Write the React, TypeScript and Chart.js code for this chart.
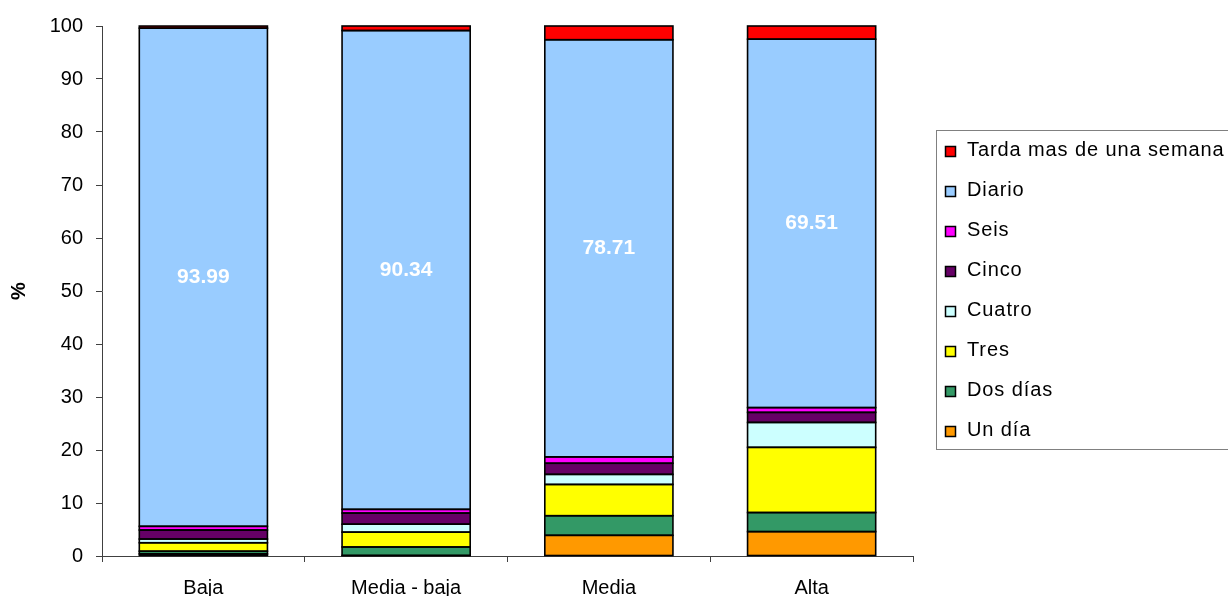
import React, { useEffect, useRef } from "react";
import { Chart, registerables } from "chart.js";

Chart.register(...registerables);

const categories = ["Baja", "Media - baja", "Media", "Alta"];
const seriesNames = ["Un día", "Dos días", "Tres", "Cuatro", "Cinco", "Seis", "Diario", "Tarda mas de una semana"];
const unDia = [0.4, 0.1, 3.9, 4.6];
const dosDias = [0.5, 1.6, 3.7, 3.6];
const tres = [1.6, 2.8, 5.9, 12.3];
const cuatro = [0.7, 1.5, 1.9, 4.7];
const cinco = [1.7, 2.1, 2.1, 1.9];
const seis = [0.7, 0.7, 1.2, 0.9];
const diario = [93.99, 90.34, 78.71, 69.51];
const tarda = [0.4, 0.86, 2.59, 2.49];
const seriesValues = [unDia, dosDias, tres, cuatro, cinco, seis, diario, tarda];
const seriesColors = ["#FF9900", "#339966", "#FFFF00", "#CCFFFF", "#660066", "#FF00FF", "#99CCFF", "#FF0000"];
const yTicks = [0, 10, 20, 30, 40, 50, 60, 70, 80, 90, 100];

const FONT = "'Liberation Sans', Arial, sans-serif";

const outlinePlugin = {
  id: "barOutlines",
  afterDatasetsDraw(chart: any) {
    const ctx = chart.ctx;
    ctx.save();
    ctx.strokeStyle = "#000000";
    ctx.lineWidth = 1.6;
    chart.data.datasets.forEach((_: any, di: number) => {
      const meta = chart.getDatasetMeta(di);
      meta.data.forEach((el: any) => {
        const { x, y, base, width } = el.getProps(["x", "y", "base", "width"], true);
        ctx.strokeRect(x - width / 2, Math.min(y, base), width, Math.abs(base - y));
      });
    });
    ctx.restore();
  },
};

const labelPlugin = {
  id: "diarioLabels",
  afterDatasetsDraw(chart: any) {
    const ctx = chart.ctx;
    const idx = seriesNames.indexOf("Diario");
    const meta = chart.getDatasetMeta(idx);
    ctx.save();
    ctx.fillStyle = "#FFFFFF";
    ctx.font = `bold 21px ${FONT}`;
    ctx.textAlign = "center";
    ctx.textBaseline = "middle";
    meta.data.forEach((el: any, i: number) => {
      const y = (el.y + el.base) / 2;
      ctx.fillText(diario[i].toFixed(2), el.x, y);
    });
    ctx.restore();
  },
};

const legendPlugin = {
  id: "boxLegend",
  afterDraw(chart: any) {
    const ctx = chart.ctx;
    const left = chart.chartArea.right + 23;
    const top = 130;
    const itemH = 40;
    const n = seriesNames.length;
    ctx.save();
    ctx.strokeStyle = "#808080";
    ctx.lineWidth = 1;
    ctx.strokeRect(left + 0.5, top + 0.5, 400, itemH * n - 1);
    ctx.font = `20px ${FONT}`;
    ctx.textBaseline = "middle";
    ctx.textAlign = "left";
    (ctx as any).letterSpacing = "0.9px";
    for (let k = 0; k < n; k++) {
      const si = n - 1 - k;
      const cy = top + 20 + itemH * k;
      ctx.fillStyle = seriesColors[si];
      ctx.fillRect(left + 9, cy - 4, 11, 11);
      ctx.strokeStyle = "#000";
      ctx.lineWidth = 1.5;
      ctx.strokeRect(left + 9.5, cy - 3.5, 10, 10);
      ctx.fillStyle = "#000";
      ctx.fillText(seriesNames[si], left + 31, cy);
    }
    ctx.restore();
  },
};

export default function App() {
  const ref = useRef<HTMLCanvasElement>(null);
  useEffect(() => {
    if (!ref.current) return;
    const chart = new Chart(ref.current, {
      type: "bar",
      data: {
        labels: categories,
        datasets: seriesNames.map((name, i) => ({
          label: name,
          data: seriesValues[i],
          backgroundColor: seriesColors[i],
          borderWidth: 0,
          barPercentage: 0.632,
          categoryPercentage: 1,
        })),
      },
      options: {
        animation: false,
        responsive: false,
        layout: { padding: { top: 26, right: 315, bottom: 0, left: 0 } },
        plugins: { legend: { display: false }, tooltip: { enabled: false } },
        scales: {
          x: {
            stacked: true,
            afterFit: (s: any) => {
              s.height = 40;
            },
            grid: {
              offset: true,
              drawOnChartArea: false,
              drawTicks: true,
              tickLength: 6,
              color: "#404040",
            },
            border: { display: true, color: "#404040" },
            ticks: { color: "#000", font: { family: FONT, size: 20 }, padding: 14, maxRotation: 0 },
          },
          y: {
            stacked: true,
            min: 0,
            max: 100,
            afterFit: (s: any) => {
              s.width = 102;
            },
            afterBuildTicks: (s: any) => {
              s.ticks = yTicks.map((v) => ({ value: v }));
            },
            grid: { drawOnChartArea: false, drawTicks: true, tickLength: 6, color: "#404040" },
            border: { display: true, color: "#404040" },
            ticks: { color: "#000", font: { family: FONT, size: 20 }, padding: 13 },
            title: {
              display: true,
              text: "%",
              color: "#000",
              font: { family: FONT, size: 20, weight: "bold" },
              padding: { top: 7, bottom: 0 },
            },
          },
        },
      },
      plugins: [outlinePlugin, labelPlugin, legendPlugin],
    });
    return () => chart.destroy();
  }, []);
  return (
    <div style={{ position: "fixed", left: 0, top: 0, width: 1228, height: 596, overflow: "hidden", background: "#fff" }}>
      <canvas ref={ref} width={1228} height={596} />
    </div>
  );
}
